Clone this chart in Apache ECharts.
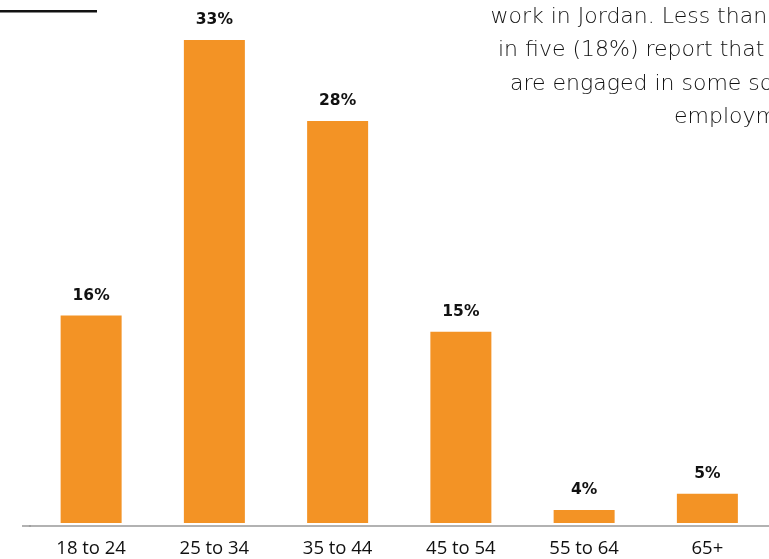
<!DOCTYPE html>
<html>
<head>
<meta charset="utf-8">
<script src="https://cdn.jsdelivr.net/npm/echarts@6/dist/echarts.min.js"></script>
<style>
html,body{margin:0;padding:0;background:#fff;}
#chart{width:769px;height:559px;}
</style>
</head>
<body>
<div id="chart"></div>
<script>
const categories = ['18 to 24', '25 to 34', '35 to 44', '45 to 54', '55 to 64', '65+'];
const values = [16, 33, 28, 15, 4, 5];
const noteLines = [
  'work in Jordan. Less than one',
  'in five (18%) report that they',
  'are engaged in some sort of',
  'employment.'
];

const chart = echarts.init(document.getElementById('chart'));
const noteX = [490.5, 498, 510, 674];
const noteBaseline = [28, 61.5, 95, 128];

const graphics = [
  { type: 'line', shape: { x1: 0, y1: 11.3, x2: 97, y2: 11.3 }, style: { stroke: '#111', lineWidth: 2.5 } },
  { type: 'line', shape: { x1: 22, y1: 526, x2: 31, y2: 526 }, style: { stroke: '#999', lineWidth: 1.5 } }
];
noteLines.forEach(function (t, i) {
  graphics.push({
    type: 'text', x: noteX[i], y: noteBaseline[i],
    style: { text: t, font: '200 22px "DejaVu Sans"', fill: '#111', textAlign: 'left', textVerticalAlign: 'bottom' }
  });
});

chart.setOption({
  animation: false,
  graphic: graphics,
  grid: { left: 29.5, width: 744, top: 7.5, bottom: 36 },
  xAxis: {
    type: 'category',
    data: categories,
    offset: 3,
    axisLine: { lineStyle: { color: '#999', width: 1.5 } },
    axisTick: { show: false },
    axisLabel: { color: '#111', fontFamily: 'Open Sans', fontWeight: 500, fontSize: 18.5, margin: 13 }
  },
  yAxis: {
    type: 'value', min: 3.2, max: 35,
    show: false,
    splitLine: { show: false }
  },
  series: [{
    type: 'bar',
    data: values,
    barWidth: 61,
    itemStyle: { color: '#F39325' },
    label: {
      show: true, position: 'top', distance: 12,
      formatter: '{c}%',
      fontFamily: 'DejaVu Sans', fontWeight: 'bold', fontSize: 15.5, color: '#111'
    }
  }]
});
</script>
</body>
</html>
